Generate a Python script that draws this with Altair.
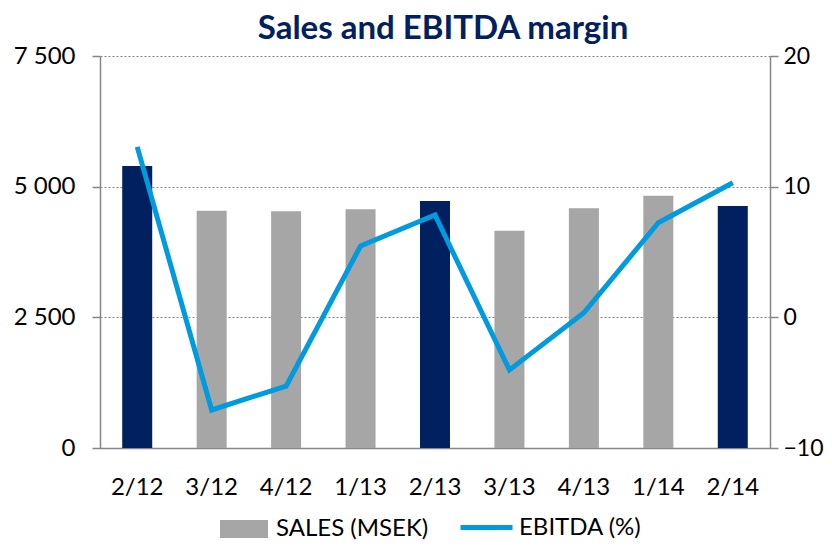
import altair as alt
import pandas as pd

periods = ["2/12", "3/12", "4/12", "1/13", "2/13", "3/13", "4/13", "1/14", "2/14"]
sales = [5395, 4540, 4528, 4566, 4725, 4158, 4585, 4827, 4630]
ebitda = [13.05, -7.09, -5.26, 5.46, 7.83, -4.03, 0.35, 7.24, 10.3]
highlight = [True, False, False, False, True, False, False, False, True]

sales_name = "SALES (MSEK)"
ebitda_name = "EBITDA (%)"

NAVY = "#002060"
GRAY = "#A6A6A6"
BLUE = "#009ADE"
AXIS = "#868686"
FONT = "Lato"

df = pd.DataFrame({"period": periods, "sales": sales, "ebitda": ebitda, "hl": highlight})

common_legend = dict(orient="none", direction="horizontal", title=None,
                     labelFont=FONT, labelFontSize=24, labelColor="#000000", padding=0)

bar_legend = alt.Legend(legendX=120, legendY=449, labelOffset=8, symbolSize=2304,
                        symbolType="M-1,-0.38H1V0.38H-1Z", symbolStrokeWidth=0,
                        symbolOpacity=1, **common_legend)
line_legend = alt.Legend(legendX=358, legendY=443, labelOffset=4, symbolSize=2704,
                         symbolType="M-1,0H1", symbolStrokeWidth=5,
                         symbolOpacity=1, **common_legend)

x_enc = alt.X("period:N", sort=periods, scale=alt.Scale(paddingInner=0, paddingOuter=0),
              axis=alt.Axis(title=None, labelAngle=0, ticks=False, domainColor=AXIS, domainWidth=1.5,
                            labelFont=FONT, labelFontSize=24, labelColor="#000000", labelPadding=27))

bars = alt.Chart(df).transform_calculate(series="'SALES (MSEK)'").mark_bar(size=30).encode(
    x=x_enc,
    y=alt.Y("sales:Q", scale=alt.Scale(domain=[0, 7500], nice=False),
            axis=alt.Axis(title=None, values=[0, 2500, 5000, 7500],
                          labelExpr="replace(format(datum.value, ','), ',', ' ')",
                          tickSize=8, tickColor=AXIS, tickWidth=1.5, domainColor=AXIS, domainWidth=1.5,
                          labelFont=FONT, labelFontSize=24, labelColor="#000000", labelPadding=17,
                          grid=True, gridColor=AXIS, gridDash=[2, 2], gridWidth=1)),
    color=alt.condition("datum.hl", alt.value(NAVY),
                        alt.Color("series:N", scale=alt.Scale(domain=[sales_name], range=[GRAY]),
                                  legend=bar_legend)),
)

line = alt.Chart(df).transform_calculate(series2="'EBITDA (%)'").mark_line(strokeWidth=5).encode(
    x=alt.X("period:N", sort=periods),
    y=alt.Y("ebitda:Q", scale=alt.Scale(domain=[-10, 20], nice=False),
            axis=alt.Axis(title=None, orient="right", values=[-10, 0, 10, 20],
                          tickSize=8, tickColor=AXIS, tickWidth=1.5, domainColor=AXIS, domainWidth=1.5,
                          labelFont=FONT, labelFontSize=23, labelColor="#000000", labelPadding=5,
                          grid=False)),
    color=alt.Color("series2:N", scale=alt.Scale(domain=[ebitda_name], range=[BLUE]),
                    legend=line_legend),
)

chart = alt.layer(bars, line).resolve_scale(y="independent", color="independent").properties(
    width=670, height=392,
    padding={"left": 92, "top": 48, "right": 54, "bottom": 95},
    autosize=alt.AutoSizeParams(type="none"),
    title=alt.TitleParams("Sales and EBITDA margin", font=FONT, fontSize=33, fontWeight="bold",
                          color=NAVY, anchor="middle", dx=8, offset=-2),
).configure_view(stroke=None)

chart.save("out.html", embed_options={"renderer": "svg", "actions": False})
